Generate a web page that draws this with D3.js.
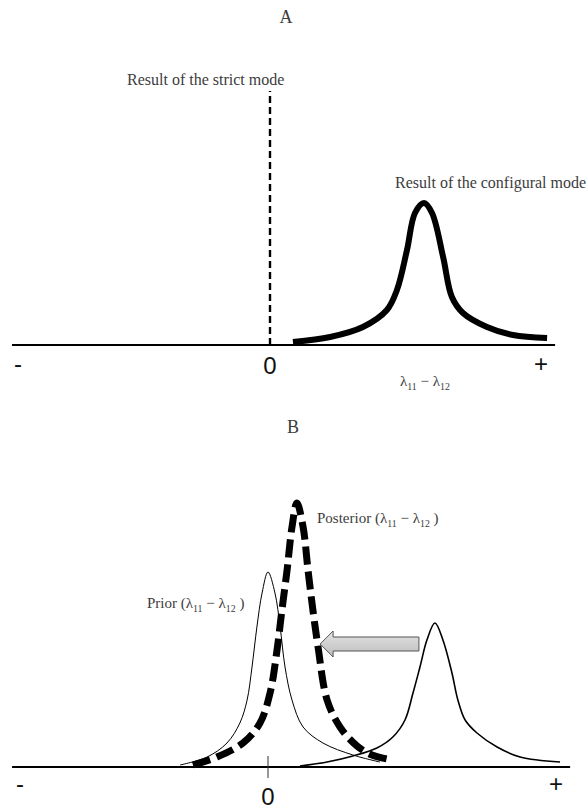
<!DOCTYPE html>
<html>
<head>
<meta charset="utf-8">
<script src="https://cdn.jsdelivr.net/npm/d3@7/dist/d3.min.js"></script>
<style>
body { margin: 0; background: #fff; }
.serif { font-family: "Liberation Serif", "DejaVu Serif", serif; fill: #3c3c3c; }
.sign { font-family: "Liberation Sans", Arial, sans-serif; fill: #111; }
</style>
</head>
<body>
<div id="chart"></div>
<script>

// x = lambda11 - lambda12 (arbitrary units), y = density (arbitrary units)

// Panel A: configural mode result
const configX = [0.89, 2.33, 3.60, 4.53, 4.92, 5.31, 5.62, 5.97, 6.28, 6.71, 7.05, 7.48, 8.41, 9.42, 10.74];
const configY = [3, 8, 18, 35, 55, 95, 132, 142, 132, 88, 48, 32, 18, 10, 7];
const strictValue = 0;

// Panel B: prior, posterior and the shifted curve on the right
const priorX = [-3.41, -2.36, -1.59, -1.09, -0.81, -0.62, -0.43, -0.23, 0, 0.27, 0.47, 0.66, 0.93, 1.36, 2.13, 3.29, 4.34];
const priorY = [2, 10, 24, 44, 67, 100, 140, 174, 195, 174, 140, 100, 67, 40, 24, 12, 5];

const postX = [-2.91, -1.98, -0.97, -0.31, 0.08, 0.35, 0.54, 0.74, 0.93, 1.12, 1.36, 1.55, 1.74, 1.94, 2.29, 2.79, 3.45, 4.03, 4.81];
const postY = [2, 10, 24, 44, 74, 117, 157, 197, 240, 264, 240, 197, 157, 120, 67, 40, 21, 12, 7];

const rightX = [1.24, 2.29, 3.29, 4.22, 4.84, 5.31, 5.62, 5.89, 6.16, 6.47, 6.78, 7.13, 7.36, 7.64, 8.10, 8.88, 9.77, 11.32];
const rightY = [1, 5, 11, 19, 30, 47, 74, 100, 127, 144, 127, 94, 67, 47, 34, 20, 10, 5];

// arrow: from the right curve towards the posterior
const arrowFrom = 5.85, arrowTo = 2.02, arrowLevel = 123;

// axis signs and extents
const signLabels = ["-", "0", "+"];
const signPosA = [-9.77, 0, 10.5];
const signPosB = [-9.61, 0, 11.16];
const axisA = [-10, 11.05];
const axisB = [-9.92, 11.71];

const width = 588, height = 809;

const svg = d3.select("#chart").append("svg")
	.attr("width", width)
	.attr("height", height);

svg.append("rect").attr("width", width).attr("height", height).attr("fill", "#fff");

// Scales
const xA = d3.scaleLinear().domain([-10, 10]).range([12, 528]);
const xB = d3.scaleLinear().domain([-10, 10]).range([10, 526]);
const yA = d3.scaleLinear().domain([0, 150]).range([345, 195]);
const yB = d3.scaleLinear().domain([0, 300]).range([767, 467]);

function zip(xs, ys) { return xs.map((v, i) => [v, ys[i]]); }

// subscripted lambda difference
function lambda(t, tail) {
	t.append("tspan").text("λ");
	t.append("tspan").attr("font-size", "0.66em").attr("dy", 4).text("11");
	t.append("tspan").attr("dy", -4).text(" − λ");
	t.append("tspan").attr("font-size", "0.66em").attr("dy", 4).text("12");
	if (tail) t.append("tspan").attr("dy", -4).text(tail);
}

// ---------- Panel A ----------
svg.append("text").attr("class", "serif")
	.attr("x", 286).attr("y", 23)
	.attr("text-anchor", "middle")
	.attr("font-size", 18)
	.text("A");

svg.append("line")
	.attr("x1", xA(axisA[0])).attr("x2", xA(axisA[1]))
	.attr("y1", yA(0)).attr("y2", yA(0))
	.attr("stroke", "#000").attr("stroke-width", 2.2);

svg.append("line")
	.attr("x1", xA(strictValue)).attr("x2", xA(strictValue))
	.attr("y1", yA(0)).attr("y2", 91)
	.attr("stroke", "#000").attr("stroke-width", 2.4)
	.attr("stroke-dasharray", "7,4");

svg.append("text").attr("class", "serif")
	.attr("x", 127).attr("y", 85)
	.attr("font-size", 16)
	.text("Result of the strict mode");

const lineA = d3.line().x(d => xA(d[0])).y(d => yA(d[1])).curve(d3.curveCatmullRom.alpha(0.5));

svg.append("path")
	.datum(zip(configX, configY))
	.attr("d", lineA)
	.attr("fill", "none")
	.attr("stroke", "#000")
	.attr("stroke-width", 6)
	.attr("stroke-linejoin", "round");

svg.append("text").attr("class", "serif")
	.attr("x", 395).attr("y", 188)
	.attr("font-size", 16)
	.text("Result of the configural mode");

svg.append("text").attr("class", "serif")
	.attr("x", 400).attr("y", 386)
	.attr("font-size", 15)
	.call(t => lambda(t));

svg.selectAll("text.signA")
	.data(signLabels)
	.join("text")
	.attr("class", "sign signA")
	.attr("x", (d, i) => xA(signPosA[i]))
	.attr("y", (d, i) => i == 1 ? 374 : 372)
	.attr("text-anchor", "middle")
	.attr("font-size", 24)
	.text(d => d);

// ---------- Panel B ----------
svg.append("text").attr("class", "serif")
	.attr("x", 293).attr("y", 433)
	.attr("text-anchor", "middle")
	.attr("font-size", 18)
	.text("B");

const lineB = d3.line().x(d => xB(d[0])).y(d => yB(d[1])).curve(d3.curveCatmullRom.alpha(0.5));

svg.append("path")
	.datum(zip(rightX, rightY))
	.attr("d", lineB)
	.attr("fill", "none")
	.attr("stroke", "#000")
	.attr("stroke-width", 1.6);

svg.append("path")
	.datum(zip(priorX, priorY))
	.attr("d", lineB)
	.attr("fill", "none")
	.attr("stroke", "#000")
	.attr("stroke-width", 1);

svg.append("path")
	.datum(zip(postX, postY))
	.attr("d", lineB)
	.attr("fill", "none")
	.attr("stroke", "#000")
	.attr("stroke-width", 7)
	.attr("stroke-dasharray", "18,7")
	.attr("stroke-linejoin", "round");

svg.append("line")
	.attr("x1", xB(axisB[0])).attr("x2", xB(axisB[1]))
	.attr("y1", yB(0)).attr("y2", yB(0))
	.attr("stroke", "#000").attr("stroke-width", 2.2);

svg.append("line")
	.attr("x1", xB(0)).attr("x2", xB(0))
	.attr("y1", yB(0) - 11).attr("y2", yB(0) + 11)
	.attr("stroke", "#333").attr("stroke-width", 1);

// arrow
const grad = svg.append("defs").append("linearGradient")
	.attr("id", "arrowfill").attr("x1", 0).attr("x2", 0).attr("y1", 0).attr("y2", 1);
grad.append("stop").attr("offset", "0%").attr("stop-color", "#e4e4e4");
grad.append("stop").attr("offset", "100%").attr("stop-color", "#bdbdbd");

const tip = xB(arrowTo), tail = xB(arrowFrom), cy = yB(arrowLevel);
const head = 13, bodyH = 7, headH = 13;
const ap = d3.path();
ap.moveTo(tip, cy);
ap.lineTo(tip + head, cy - headH);
ap.lineTo(tip + head, cy - bodyH);
ap.lineTo(tail, cy - bodyH);
ap.lineTo(tail, cy + bodyH);
ap.lineTo(tip + head, cy + bodyH);
ap.lineTo(tip + head, cy + headH);
ap.closePath();
svg.append("path")
	.attr("d", ap.toString())
	.attr("fill", "url(#arrowfill)")
	.attr("stroke", "#555")
	.attr("stroke-width", 1);

svg.append("text").attr("class", "serif")
	.attr("x", 317).attr("y", 523)
	.attr("font-size", 15)
	.call(t => { t.append("tspan").text("Posterior ("); lambda(t, " )"); });

svg.append("text").attr("class", "serif")
	.attr("x", 147).attr("y", 608)
	.attr("font-size", 15)
	.call(t => { t.append("tspan").text("Prior ("); lambda(t, " )"); });

svg.selectAll("text.signB")
	.data(signLabels)
	.join("text")
	.attr("class", "sign signB")
	.attr("x", (d, i) => xB(signPosB[i]))
	.attr("y", (d, i) => i == 1 ? 805 : 792)
	.attr("text-anchor", "middle")
	.attr("font-size", 24)
	.text(d => d);

</script>
</body>
</html>
